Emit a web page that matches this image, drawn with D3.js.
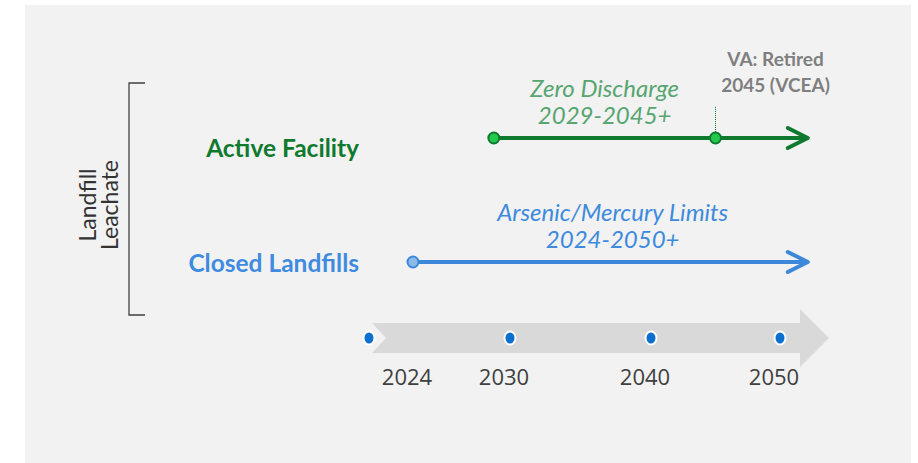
<!DOCTYPE html>
<html>
<head>
<meta charset="utf-8">
<script src="https://cdn.jsdelivr.net/npm/d3@7"></script>
<style>
  body { margin: 0; background: #fff; }
  svg { display: block; font-family: Lato, "Open Sans", sans-serif; }
</style>
</head>
<body>
<div id="chart"></div>
<script>
// timeline ticks
const years = [2024, 2030, 2040, 2050];
const yearLabels = ["2024", "2030", "2040", "2050"];

// rows of the diagram
const rows = ["Active Facility", "Closed Landfills"];
const rowStart = [2029, 2024];
const rowEnd = [2052, 2052];
const rowNotes = [["Zero Discharge", "2029-2045+"], ["Arsenic/Mercury Limits", "2024-2050+"]];
const milestones = [{ row: "Active Facility", year: 2045, text: ["VA: Retired", "2045 (VCEA)"] }];
const groupLabel = ["Landfill", "Leachate"];

const width = 918;
const height = 463;

const rowColors = {
    "Active Facility": { line: "#0f7a2e", text: "#0f7a2e", note: "#57a571", dot: "#22c94a", dotStroke: "#0f7a2e" },
    "Closed Landfills": { line: "#3d88da", text: "#3f8be0", note: "#3d8ade", dot: "#8db9ea", dotStroke: "#3d88da" }
};

const svg = d3.select("#chart").append("svg")
    .attr("width", width)
    .attr("height", height);

// panel
svg.append("rect")
    .attr("x", 25).attr("y", 5)
    .attr("width", 886).attr("height", height)
    .attr("fill", "#f2f2f2");

const x = d3.scaleLinear()
    .domain(years)
    .range([413, 510, 651, 780]);

const y = d3.scalePoint()
    .domain(rows)
    .range([138, 262]);

// row names don't sit level with their lines in the original
const yLabel = d3.scalePoint()
    .domain(rows)
    .range([157, 272]);

const axisY = 338;

// big grey timeline arrow
const x0 = x(years[0]) - 41;
const xb = x(years[years.length - 1]) + 20;
const xt = x(years[years.length - 1]) + 49;
svg.append("path")
    .attr("d", `M${x0},${axisY - 15} L${xb},${axisY - 15} L${xb},${axisY - 29} L${xt},${axisY}
        L${xb},${axisY + 29} L${xb},${axisY + 15} L${x0},${axisY + 15} L${x0 + 14},${axisY} Z`)
    .attr("fill", "#d9d9d9");

// tick dots (first one sits at the tail of the arrow)
svg.append("g").selectAll("ellipse")
    .data(years)
    .join("ellipse")
    .attr("cx", (d, i) => i == 0 ? x0 - 3 : x(d))
    .attr("cy", axisY)
    .attr("rx", 5.5).attr("ry", 6.5)
    .attr("fill", "#0a6fcf")
    .attr("stroke", "#fff")
    .attr("stroke-width", 2);

svg.append("g").selectAll("text")
    .data(years)
    .join("text")
    .attr("x", d => x(d) - 6)
    .attr("y", 385)
    .attr("text-anchor", "middle")
    .attr("font-family", "'Open Sans', sans-serif")
    .attr("font-size", 22)
    .attr("fill", "#404040")
    .text((d, i) => yearLabels[i]);

// bracket + group label
svg.append("path")
    .attr("d", "M145,83 L129,83 L129,315 L145,315")
    .attr("fill", "none")
    .attr("stroke", "#404040")
    .attr("stroke-width", 1.3);

svg.append("text")
    .attr("transform", "translate(96,205) rotate(-90)")
    .attr("text-anchor", "middle")
    .attr("font-size", 23)
    .attr("fill", "#333")
    .selectAll("tspan")
    .data(groupLabel)
    .join("tspan")
    .attr("x", 0)
    .attr("dy", (d, i) => i == 0 ? 0 : 22)
    .text(d => d);

// rows
rows.forEach((r, i) => {
    const c = rowColors[r];
    const yy = y(r);
    const g = svg.append("g");

    g.append("text")
        .attr("x", 359)
        .attr("y", yLabel(r))
        .attr("text-anchor", "end")
        .attr("font-weight", "bold")
        .attr("font-size", 24.5)
        .attr("fill", c.text)
        .text(r);

    g.append("line")
        .attr("x1", x(rowStart[i])).attr("x2", x(rowEnd[i]))
        .attr("y1", yy).attr("y2", yy)
        .attr("stroke", c.line)
        .attr("stroke-width", 4);

    const tip = x(rowEnd[i]) + 2;
    g.append("path")
        .attr("d", `M${tip - 20},${yy - 10} L${tip},${yy} L${tip - 20},${yy + 10}`)
        .attr("fill", "none")
        .attr("stroke", c.line)
        .attr("stroke-width", 4)
        .attr("stroke-linecap", "round")
        .attr("stroke-linejoin", "round");

    const pts = [rowStart[i]].concat(milestones.filter(m => m.row == r).map(m => m.year));
    g.selectAll("circle")
        .data(pts)
        .join("circle")
        .attr("cx", d => x(d))
        .attr("cy", yy)
        .attr("r", 5.5)
        .attr("fill", c.dot)
        .attr("stroke", c.dotStroke)
        .attr("stroke-width", 2);

    const nx = x(2037) - 4 + i * 8;
    g.append("text")
        .attr("y", yy - 41)
        .attr("text-anchor", "middle")
        .attr("font-style", "italic")
        .attr("font-size", 24)
        .attr("fill", c.note)
        .selectAll("tspan")
        .data(rowNotes[i])
        .join("tspan")
        .attr("x", nx)
        .attr("dy", (d, j) => j == 0 ? 0 : 27)
        .text(d => d);
});

// milestone callout
milestones.forEach(m => {
    const mx = x(m.year);
    const my = y(m.row);
    svg.append("line")
        .attr("x1", mx).attr("x2", mx)
        .attr("y1", my - 31).attr("y2", my - 6)
        .attr("stroke", "#0f7a2e")
        .attr("stroke-width", 1)
        .attr("stroke-dasharray", "1,1");

    svg.append("text")
        .attr("text-anchor", "middle")
        .attr("font-weight", "bold")
        .attr("font-size", 19)
        .attr("fill", "#7f7f7f")
        .selectAll("tspan")
        .data(m.text)
        .join("tspan")
        .attr("x", mx + 60)
        .attr("y", (d, j) => 66 + j * 26)
        .text(d => d);
});
</script>
</body>
</html>
